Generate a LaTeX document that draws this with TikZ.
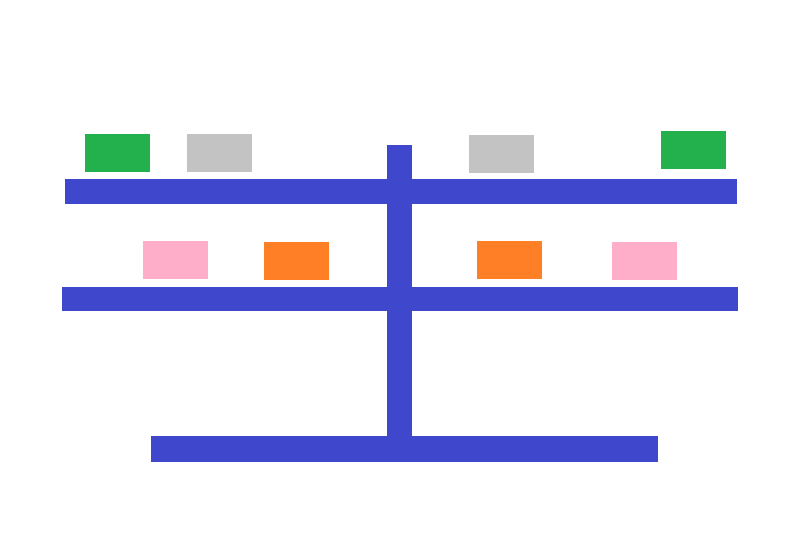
\documentclass[tikz,border=0pt]{standalone}
\usepackage[dvipsnames]{xcolor}
\definecolor{barblue}{HTML}{3F48CC}
\definecolor{boxgreen}{HTML}{22B14C}
\definecolor{boxgray}{HTML}{C3C3C3}
\definecolor{boxpink}{HTML}{FFAECA}
\definecolor{boxorange}{HTML}{FF7F27}

\begin{document}
\begin{tikzpicture}[x=1pt,y=-1pt,anchor=north west,inner sep=0pt,outer sep=0pt,
    bar/.style={fill=barblue,draw=none},
    box/.style={draw=none,minimum width=65pt,minimum height=38pt}]

            \useasboundingbox (0,0) rectangle (785,548);

            % shelves
            \node[bar, minimum width=672pt, minimum height=25pt]  (top) at (65,179) {};
            \node[bar, minimum width=676pt, minimum height=24pt]  (mid) at (62,287) {};
            \node[bar, minimum width=507pt, minimum height=26pt]  (base) at (151,436) {};
            \node[bar, minimum width=25pt, minimum height=317pt]  (post) at (387,145) {};

            % boxes on the top shelf
            \node[box, fill=boxgreen]  (g1) at (85,134) {};
            \node[box, fill=boxgray]   (s1) at (187,134) {};
            \node[box, fill=boxgray]   (s2) at (469,135) {};
            \node[box, fill=boxgreen]  (g2) at (661,131) {};

            % boxes on the middle shelf
            \node[box, fill=boxpink]   (p1) at (143,241) {};
            \node[box, fill=boxorange] (o1) at (264,242) {};
            \node[box, fill=boxorange] (o2) at (477,241) {};
            \node[box, fill=boxpink]   (p2) at (612,242) {};

        \end{tikzpicture}
\end{document}
